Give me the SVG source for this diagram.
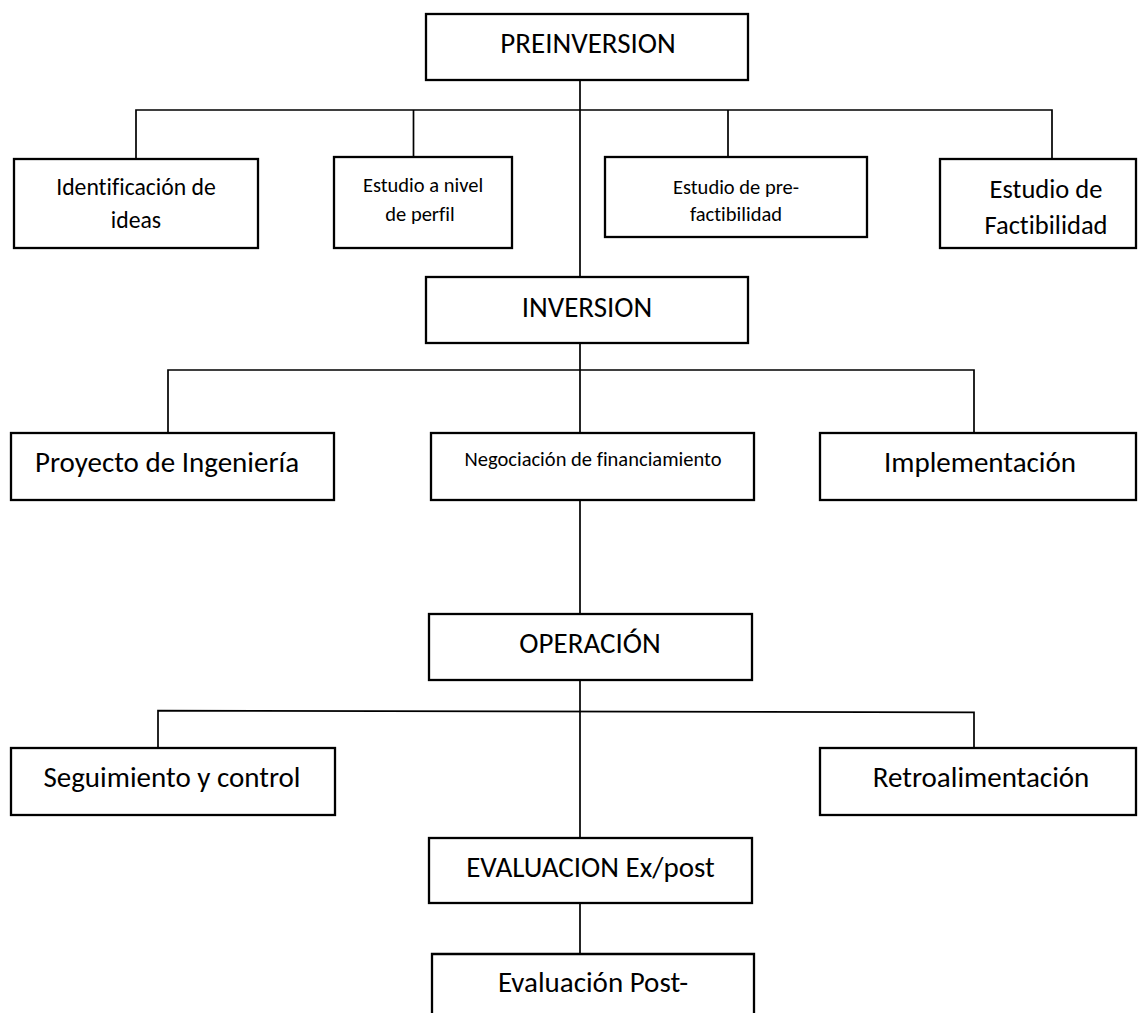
<svg xmlns="http://www.w3.org/2000/svg" width="1138" height="1013" viewBox="0 0 1138 1013">
<style>
.box{fill:#fff;stroke:#000;stroke-width:2.3}
.ln{fill:none;stroke:#000;stroke-width:1.7}
text{font-family:Carlito,Calibri,Lato,sans-serif;fill:#000;text-anchor:middle;font-variant-ligatures:none}
.l{font-size:29px}
.m{font-size:26.5px}
.s{font-size:23.7px}
.xs{font-size:20.5px}
</style>
<rect width="1138" height="1013" fill="#fff"/>
<g id="connectors">
<path class="ln" d="M580 80V277M580 343V433M580 500V614M580 680V838M580 903V954"/>
<path class="ln" d="M136 159V110H1052V159M413.5 110V157M728 110V157"/>
<path class="ln" d="M168 433V370H974V433"/>
<path class="ln" d="M158 748V710.7L974 712.3V748"/>
</g>
<g id="preinversion"><rect class="box" x="426" y="14" width="322" height="66"/><text class="l" x="588" y="53">PREINVERSION</text></g>
<g id="identificacion"><rect class="box" x="14" y="159" width="244" height="89"/><text class="s" x="136" y="195">Identificación de</text><text class="s" x="136" y="228">ideas</text></g>
<g id="perfil"><rect class="box" x="334" y="157" width="178" height="91"/><text class="xs" x="423" y="192">Estudio a nivel</text><text class="xs" x="420" y="221">de perfil</text></g>
<g id="prefactibilidad"><rect class="box" x="605" y="157" width="262" height="80"/><text class="xs" x="736" y="194">Estudio de pre-</text><text class="xs" x="736" y="221">factibilidad</text></g>
<g id="factibilidad"><rect class="box" x="940" y="159" width="196" height="89"/><text class="m" x="1046" y="198">Estudio de</text><text class="m" x="1046" y="234">Factibilidad</text></g>
<g id="inversion"><rect class="box" x="426" y="277" width="322" height="66"/><text class="l" x="587" y="317">INVERSION</text></g>
<g id="ingenieria"><rect class="box" x="11" y="433" width="323" height="67"/><text class="l" x="167" y="472">Proyecto de Ingeniería</text></g>
<g id="negociacion"><rect class="box" x="431" y="433" width="323" height="67"/><text class="xs" x="593" y="466">Negociación de financiamiento</text></g>
<g id="implementacion"><rect class="box" x="820" y="433" width="316" height="67"/><text class="l" x="980" y="472">Implementación</text></g>
<g id="operacion"><rect class="box" x="429" y="614" width="323" height="66"/><text class="l" x="590" y="653">OPERACIÓN</text></g>
<g id="seguimiento"><rect class="box" x="11" y="748" width="324" height="67"/><text class="l" x="172" y="787">Seguimiento y control</text></g>
<g id="retroalimentacion"><rect class="box" x="820" y="748" width="316" height="67"/><text class="l" x="981" y="787">Retroalimentación</text></g>
<g id="evaluacion"><rect class="box" x="429" y="838" width="323" height="65"/><text class="l" x="590.5" y="877.3">EVALUACION Ex/post</text></g>
<g id="postevaluacion"><path class="box" d="M432 1020V954H754V1020"/><text class="l" x="593" y="992">Evaluación Post-</text></g>
</svg>
